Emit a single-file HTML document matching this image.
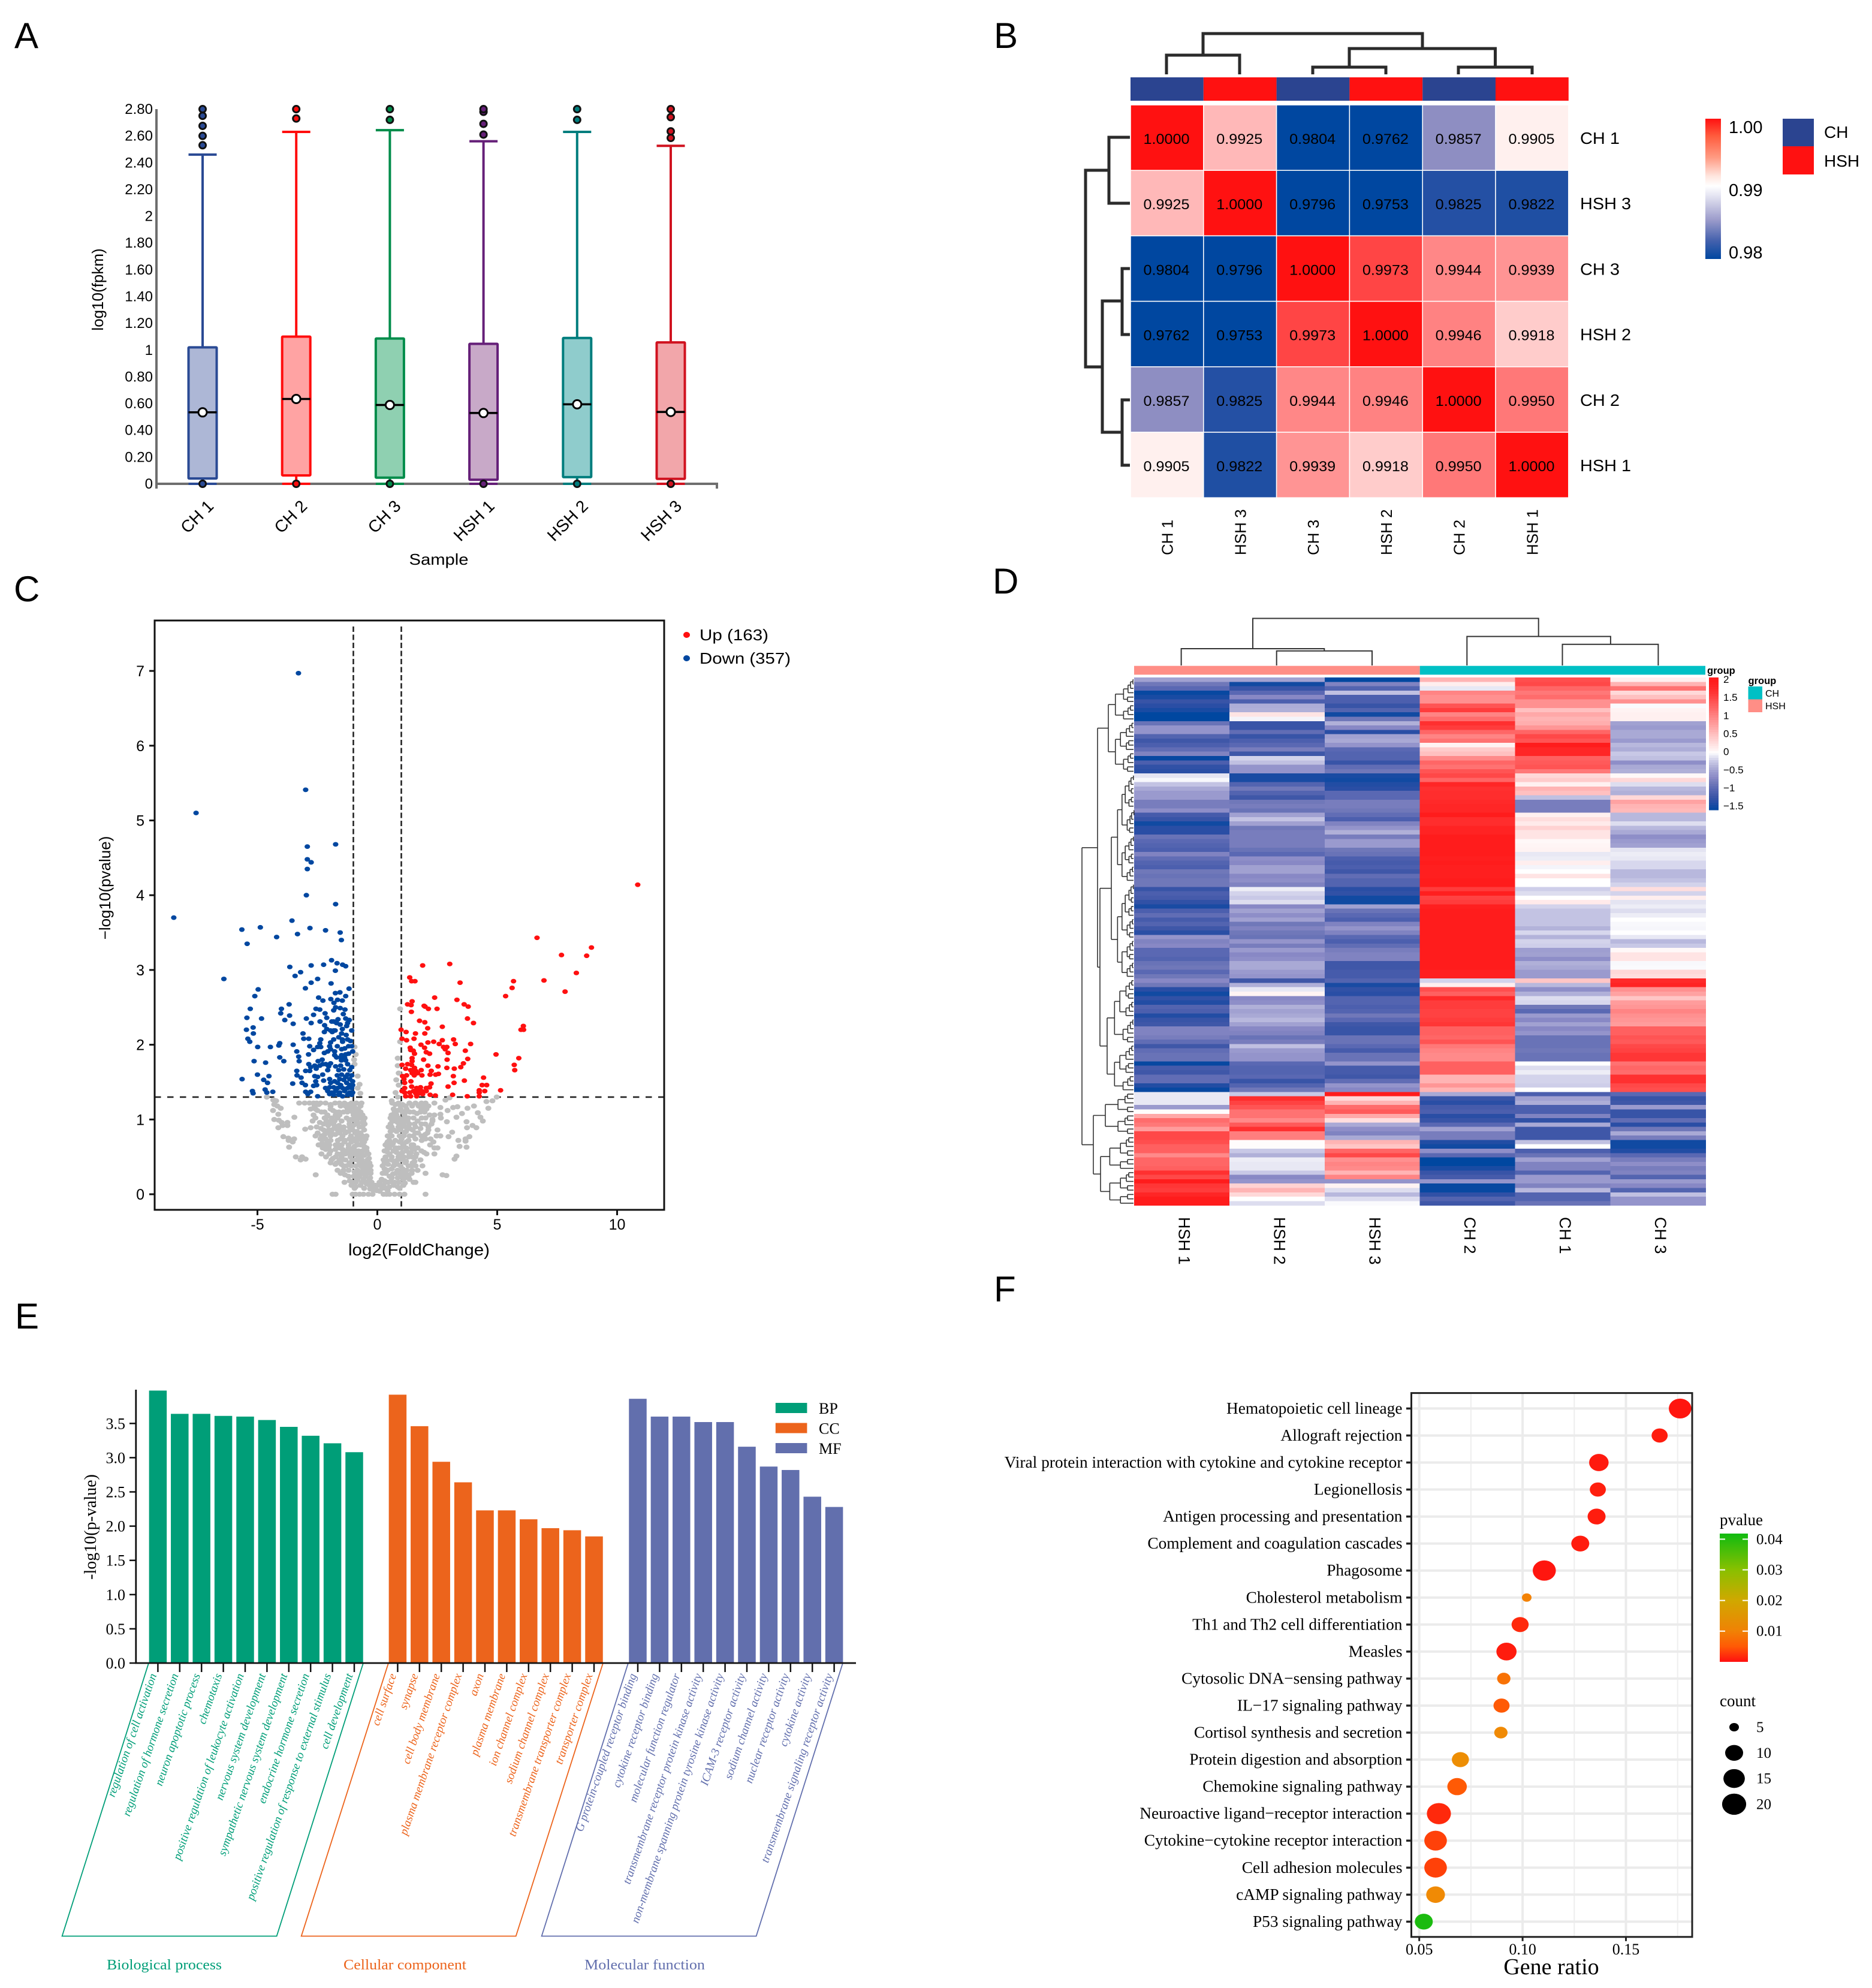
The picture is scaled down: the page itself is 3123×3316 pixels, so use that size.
<!DOCTYPE html>
<html lang="en">
<head>
<meta charset="utf-8">
<title>Multi-panel transcriptome figure</title>
<style>
html,body{margin:0;padding:0;background:#fff}
svg{display:block}
.sans{font-family:"Liberation Sans",sans-serif}
.serif{font-family:"Liberation Serif",serif}
</style>
</head>
<body>
<svg id="fig" xmlns="http://www.w3.org/2000/svg" width="3123" height="3316" viewBox="0 0 3123 3316">
<rect width="3123" height="3316" fill="#fff"/>
<defs>
<linearGradient id="gradB" x1="0" y1="0" x2="0" y2="1">
<stop offset="0" stop-color="#ff1111"/><stop offset="0.12" stop-color="#ff5a3c"/><stop offset="0.28" stop-color="#ff9c84"/><stop offset="0.41" stop-color="#ffe6df"/><stop offset="0.48" stop-color="#ffffff"/><stop offset="0.55" stop-color="#e4e4f2"/><stop offset="0.72" stop-color="#9c9ccb"/><stop offset="0.87" stop-color="#4461ad"/><stop offset="1" stop-color="#0047a0"/>
</linearGradient>
<linearGradient id="gradF" x1="0" y1="0" x2="0" y2="1">
<stop offset="0" stop-color="#10bb10"/><stop offset="0.28" stop-color="#88c000"/><stop offset="0.52" stop-color="#d0a800"/><stop offset="0.76" stop-color="#f08205"/><stop offset="0.88" stop-color="#ff5a05"/><stop offset="1" stop-color="#ff1010"/>
</linearGradient>
</defs>

<g class="sans" fill="#000" font-size="60">
<text x="24" y="80">A</text>
<text x="1658" y="80">B</text>
<text x="23" y="1003">C</text>
<text x="1656" y="990">D</text>
<text x="25" y="2216">E</text>
<text x="1658" y="2171">F</text>
</g>

<g id="panelA" class="sans">
<text transform="translate(172,483) rotate(-90)" font-size="26" text-anchor="middle">log10(fpkm)</text>
<text x="732" y="942" font-size="26" text-anchor="middle" textLength="99" lengthAdjust="spacingAndGlyphs">Sample</text>
</g>

<g id="panelB" class="sans">
<path fill="none" stroke="#2b2b2b" stroke-width="5" d="M1946 124V92H2068V124M2007 92V56H2373V81M2251 112V81H2494.5V112M2190 124V112H2312V124M2433 124V112H2556V124"/>
<path fill="none" stroke="#2b2b2b" stroke-width="5" d="M1885 229H1850V339H1885M1850 284H1811V612H1839M1872 502H1839V721H1872M1885 448H1872V558H1885M1885 667H1872V776H1885"/>
<rect x="2845" y="198" width="26" height="234" fill="url(#gradB)"/>
<text x="2884" y="222" font-size="29">1.00</text>
<text x="2884" y="327" font-size="29">0.99</text>
<text x="2884" y="431" font-size="29">0.98</text>
<rect x="2974" y="198" width="52" height="46" fill="#2b4490"/>
<rect x="2974" y="244" width="52" height="47" fill="#ff1111"/>
<text x="3043" y="230" font-size="28">CH</text>
<text x="3043" y="278" font-size="28">HSH</text>
</g>

<g id="panelC" class="sans">
<text transform="translate(184,1481) rotate(-90)" font-size="26" text-anchor="middle">−log10(pvalue)</text>
<text x="699" y="2094" font-size="28" text-anchor="middle" textLength="236" lengthAdjust="spacingAndGlyphs">log2(FoldChange)</text>
</g>

<g id="panelD" class="sans">
<path fill="none" stroke="#333" stroke-width="2" d="M2090 1082V1031.5H2566.7V1061.6M1970.6 1110V1082H2209.3V1085.8M2129.7 1110V1085.8H2289V1110M2447.3 1110V1061.6H2686.9V1074.8M2606.5 1110V1074.8H2766.4V1110"/>
<rect x="1892" y="1110.7" width="476.7" height="14.7" fill="#ff8e86"/>
<rect x="2368.7" y="1110.7" width="476.3" height="14.7" fill="#00c0c5"/>
<text x="2848" y="1124" font-size="16.5" font-weight="bold">group</text>
<text x="2916.5" y="1141" font-size="16.5" font-weight="bold">group</text>
<rect x="2916.5" y="1145" width="23.5" height="21.5" fill="#00c0c5"/>
<rect x="2916.5" y="1166.5" width="23.5" height="21.5" fill="#ff8e86"/>
<text x="2945" y="1162" font-size="16">CH</text>
<text x="2945" y="1183" font-size="16">HSH</text>
</g>

<g id="panelE" class="serif">
<text transform="translate(160,2547) rotate(-90)" font-size="28" text-anchor="middle">-log10(p-value)</text>
</g>

<g id="panelF" class="serif">
<text x="2588" y="3293" font-size="38" text-anchor="middle">Gene ratio</text>
<rect x="2869" y="2558" width="47" height="214" fill="url(#gradF)"/>
<text x="2869" y="2544" font-size="27">pvalue</text>
<text x="2869" y="2846" font-size="27">count</text>
</g>
</svg>

<script>
/* ---------- shared helpers ---------- */
const NS = 'http://www.w3.org/2000/svg';
function mk(parent, tag, attrs, txt) {
  const el = document.createElementNS(NS, tag);
  for (const k in attrs) el.setAttribute(k, attrs[k]);
  if (txt !== undefined) el.textContent = txt;
  parent.appendChild(el);
  return el;
}
function hex2(c){c=c.replace('#','');if(c.length===3)c=c[0]+c[0]+c[1]+c[1]+c[2]+c[2];return [0,2,4].map(i=>parseInt(c.substr(i,2),16));}
function ramp(stops, v){
  if(v<=stops[0][0])return stops[0][1];
  for(let i=1;i<stops.length;i++){
    if(v<=stops[i][0]){
      const t=(v-stops[i-1][0])/(stops[i][0]-stops[i-1][0]);
      const a=hex2(stops[i-1][1]),b=hex2(stops[i][1]);
      return 'rgb('+a.map((x,j)=>Math.round(x+(b[j]-x)*t)).join(',')+')';
    }
  }
  return stops[stops.length-1][1];
}
</script>

<script>
/* ---------- Panel A: box plot ---------- */
const boxSamples = ["CH 1","CH 2","CH 3","HSH 1","HSH 2","HSH 3"];
const boxQ1 = [0.04,0.063,0.046,0.03,0.05,0.037];
const boxMedian = [0.534,0.634,0.589,0.529,0.594,0.537];
const boxQ3 = [1.02,1.10,1.086,1.046,1.09,1.057];
const boxWhiskerHigh = [2.46,2.63,2.643,2.56,2.63,2.526];
const boxWhiskerLow = [0,0,0,0,0,0];
const boxOutliers = [
  [0,2.53,2.60,2.675,2.75,2.80],
  [0,2.73,2.80],
  [0,2.72,2.80],
  [0,2.61,2.69,2.78,2.80],
  [0,2.72,2.80],
  [0,2.585,2.634,2.74,2.80]
];
const boxTicks = [0,0.2,0.4,0.6,0.8,1,1.2,1.4,1.6,1.8,2,2.2,2.4,2.6,2.8];
const boxTickLabels = ["0","0.20","0.40","0.60","0.80","1","1.20","1.40","1.60","1.80","2","2.20","2.40","2.60","2.80"];
const boxColors = ["#2a4a94","#ff0d0d","#008c4a","#651f78","#007d7d","#d0121f"];
const boxFills = ["#adb7d6","#ffa3a3","#8fd0b1","#c8a9c8","#8fcccc","#f2a6aa"];
(function(){
  const g = document.getElementById('panelA');
  const yA = v => 807 - v * 223.2;
  const xA = i => 338 + i * 156.2;
  const axis = mk(g,'path',{d:'M261 182V815M261 807H1196V815',fill:'none',stroke:'#6e6e6e','stroke-width':4});
  
  
  boxTicks.forEach((t,i)=>{
    const lb = mk(g,'text',{x:255,y:yA(t)+8,'font-size':24,'text-anchor':'end'},boxTickLabels[i]);
    
    
  });
  boxSamples.forEach((s,i)=>{
    const c = xA(i), col = boxColors[i], hw = 23.5;
    const w = mk(g,'path',{d:'M'+c+' '+yA(boxQ3[i])+'V'+yA(boxWhiskerHigh[i])+'M'+(c-hw)+' '+yA(boxWhiskerHigh[i])+'H'+(c+hw)+'M'+c+' '+yA(boxQ1[i])+'V'+yA(boxWhiskerLow[i])+'M'+(c-hw)+' '+yA(boxWhiskerLow[i])+'H'+(c+hw),fill:'none',stroke:col,'stroke-width':4});
    
    
    const b = mk(g,'rect',{x:c-hw,y:yA(boxQ3[i]),width:2*hw,height:yA(boxQ1[i])-yA(boxQ3[i]),fill:boxFills[i],stroke:col,'stroke-width':4,rx:1});
    
    
    const m = mk(g,'line',{x1:c-hw,x2:c+hw,y1:yA(boxMedian[i]),y2:yA(boxMedian[i]),stroke:'#000','stroke-width':3.5});
    
    
    const md = mk(g,'circle',{cx:c,cy:yA(boxMedian[i]),r:7,fill:'#fff',stroke:'#000','stroke-width':3});
    
    
    boxOutliers[i].forEach(o=>{
      const d = mk(g,'circle',{cx:c,cy:yA(o),r:5.5,fill:col,stroke:'#111','stroke-width':3});
      
      
    });
    const t = mk(g,'text',{transform:'translate('+(c+20)+',846) rotate(-45)','font-size':28,'text-anchor':'end'},s);
    
    
  });
})();
</script>

<script>
/* ---------- Panel B: correlation heatmap ---------- */
const corrOrder = ["CH 1","HSH 3","CH 3","HSH 2","CH 2","HSH 1"];
const corrGroupIsHsh = [0,1,0,1,0,1];
const corrMatrix = [
  [1.0000,0.9925,0.9804,0.9762,0.9857,0.9905],
  [0.9925,1.0000,0.9796,0.9753,0.9825,0.9822],
  [0.9804,0.9796,1.0000,0.9973,0.9944,0.9939],
  [0.9762,0.9753,0.9973,1.0000,0.9946,0.9918],
  [0.9857,0.9825,0.9944,0.9946,1.0000,0.9950],
  [0.9905,0.9822,0.9939,0.9918,0.9950,1.0000]
];
const corrStops = [[0.9804,'#0047a0'],[0.9825,'#2450a4'],[0.9857,'#8e8ec2'],[0.9895,'#f0f0f8'],[0.99,'#ffffff'],[0.9905,'#fff0ee'],[0.9925,'#ffb8b8'],[0.995,'#ff7878'],[0.9973,'#ff4545'],[1,'#ff1111']];
(function(){
  const g = document.getElementById('panelB');
  const cx = j => 1886 + j * 121.8;
  const cy = i => 175 + i * 109.2;
  corrOrder.forEach((n,j)=>{
    const a = mk(g,'rect',{x:cx(j),y:129,width:121.8,height:39,fill:corrGroupIsHsh[j]?'#ff1111':'#2b4490'});
    
    
    const t = mk(g,'text',{transform:'translate('+(cx(j)+70.5)+',926) rotate(-90)','font-size':26},n);
    
    
    const r = mk(g,'text',{x:2636,y:cy(j)+65,'font-size':28,textLength:n.length>4?85:66,lengthAdjust:'spacingAndGlyphs'},n);
    
    
  });
  corrMatrix.forEach((row,i)=>row.forEach((v,j)=>{
    const c = mk(g,'rect',{x:cx(j),y:cy(i),width:121.8,height:109.2,fill:ramp(corrStops,v),stroke:'#fff','stroke-width':1.5});
    
    
    const t = mk(g,'text',{x:cx(j)+60,y:cy(i)+65,'font-size':24,'text-anchor':'middle',textLength:77,lengthAdjust:'spacingAndGlyphs'},v.toFixed(4));
    
    
  }));
})();
</script>

<script>
/* ---------- Panel C: volcano ---------- */
const downPoints = [
[-3.29,6.97],[-2.99,5.41],[-7.56,5.10],[-2.92,4.65],[-1.74,4.68],[-2.92,4.48],[-2.76,4.44],[-2.92,4.35],[-2.96,4.0],[-8.49,3.7],[-6.4,2.88],
[-1.74,3.88],[-3.56,3.66],[-5.65,3.54],[-4.88,3.57],[-2.81,3.56],[-2.16,3.53],[-1.55,3.50],[-3.33,3.48],[-4.2,3.44],[-1.5,3.40],[-5.43,3.35],
[-1.91,3.13],[-1.68,3.09],[-1.45,3.07],[-1.32,3.05],[-2.76,3.06],[-2.24,3.07],[-3.65,3.04],[-1.75,2.99],[-3.2,2.97],[-3.43,2.92],[-2.49,2.88],[-2.76,2.83],[-1.93,2.82],[-3.0,2.755],[-1.18,2.75],[-4.97,2.74],[-5.11,2.65],[-1.75,2.69],[-1.56,2.70],[-1.32,2.65],[-2.45,2.63],[-1.94,2.61],[-2.27,2.59],[-1.66,2.6],[-1.46,2.59],[-1.81,2.56],[-3.68,2.54],[-1.74,2.5],[-5.3,2.48],[-4.0,2.48],[-2.56,2.48],[-2.4,2.47],[-1.82,2.46],[-1.55,2.49],[-1.35,2.47],[-4.03,2.42],[-2.18,2.42],[-1.42,2.41],[-2.66,2.40],[-3.66,2.39],[-2.11,2.36],[-5.44,2.36],[-4.83,2.35],[-2.96,2.35],[-3.86,2.33],[-1.32,2.35],[-1.17,2.33],[-1.64,2.34],[-1.82,2.31],[-1.9,2.31],[-2.39,2.31],[-2.76,2.29],[-3.51,2.28],[-1.7,2.29],[-1.55,2.27],[-1.24,2.29],[-1.28,2.25],[-2.2,2.26],[-5.18,2.23],[-5.46,2.2],[-1.46,2.21],[-1.07,2.19],[-2.11,2.21],[-2.21,2.17],[-1.95,2.19],[-1.82,2.19],[-1.76,2.19],[-1.49,2.15],[-5.17,2.15],[-3.1,2.15],[-1.88,2.17],[-1.3,2.13],[-3.07,2.08],[-2.86,2.08],[-5.4,2.08],[-5.32,2.04],[-2.36,2.07],[-1.82,2.07],[-1.61,2.1],[-1.46,2.07],[-1.24,2.07],[-1.12,2.05],[-1.45,2.04],[-1.95,2.03],[-2.4,2.02],[-4.07,2.02],[-4.11,1.99],[-3.51,2.0],[-4.46,1.97],[-4.99,1.97],[-2.82,1.98],[-2.49,1.97],[-2.36,1.97],[-1.99,1.98],[-1.67,1.98],[-1.2,1.98],[-1.07,1.98],[-1.36,1.95],[-1.95,1.94],[-1.49,1.94],[-2.66,1.93],[-3.36,1.91],[-1.78,1.91],[-2.07,1.91],[-2.21,1.89],[-1.03,1.91],[-1.2,1.88],[-1.49,1.86],[-1.32,1.87],[-2.87,1.87],[-1.78,1.86],[-3.28,1.84],[-4.07,1.83],[-1.7,1.83],[-1.53,1.83],[-1.36,1.82],[-5.14,1.78],[-4.66,1.76],[-3.9,1.78],[-3.26,1.78],[-2.3,1.8],[-2.47,1.78],[-1.5,1.79],[-1.32,1.79],[-2.86,1.74],[-1.95,1.75],[-2.15,1.74],[-2.28,1.74],[-1.24,1.74],[-2.61,1.72],[-2.4,1.72],[-2.78,1.7],[-2.03,1.71],[-1.74,1.71],[-1.53,1.72],[-1.07,1.7],[-2.55,1.68],[-2.07,1.66],[-2.99,1.65],[-2.82,1.65],[-3.36,1.65],[-1.61,1.66],[-1.4,1.67],[-1.15,1.66],[-3.35,1.59],[-5.0,1.6],[-4.52,1.58],[-2.61,1.58],[-2.28,1.6],[-1.67,1.59],[-1.49,1.6],[-1.24,1.6],[-1.07,1.59],[-3.18,1.56],[-2.49,1.57],[-1.32,1.57],[-5.64,1.54],[-4.74,1.53],[-1.99,1.54],[-1.57,1.54],[-1.15,1.54],[-2.24,1.52],[-2.57,1.51],[-1.78,1.51],[-1.4,1.53],[-1.03,1.51],[-4.58,1.49],[-3.14,1.49],[-3.53,1.48],[-1.95,1.49],[-1.66,1.49],[-1.28,1.49],[-3.0,1.46],[-2.66,1.45],[-2.53,1.46],[-1.53,1.46],[-1.15,1.46],[-1.03,1.46],[-2.16,1.42],[-1.99,1.43],[-1.82,1.43],[-1.66,1.42],[-1.45,1.42],[-1.24,1.42],[-1.07,1.42],[-4.68,1.4],[-5.21,1.38],[-4.36,1.37],[-2.99,1.37],[-2.78,1.37],[-4.61,1.36],[-5.18,1.35],[-2.9,1.34],[-2.07,1.38],[-1.9,1.36],[-1.74,1.38],[-1.57,1.36],[-1.36,1.38],[-1.15,1.36],[-1.03,1.36],[-1.99,1.34],[-1.82,1.33],[-1.61,1.33],[-1.45,1.31],[-1.24,1.33],[-1.07,1.33],[-2.49,1.31]
];
const upPoints = [
[10.86,4.14],[6.66,3.43],[8.93,3.3],[7.68,3.2],[8.73,3.19],[8.3,2.96],[5.68,2.85],[6.95,2.86],[5.62,2.76],[7.83,2.71],[5.35,2.65],
[1.89,3.06],[3.02,3.08],[1.35,2.9],[1.43,2.85],[1.57,2.85],[3.45,2.83],[2.39,2.63],[3.32,2.6],[1.45,2.58],[1.26,2.54],[1.41,2.53],[1.95,2.52],[1.99,2.51],[3.62,2.54],[3.79,2.51],[2.13,2.48],[2.49,2.48],[1.42,2.44],[3.76,2.35],[4.01,2.29],[1.76,2.32],[1.98,2.3],[6.09,2.25],[2.71,2.24],[2.1,2.22],[5.99,2.2],[6.1,2.2],[0.99,2.2],[1.2,2.17],[1.59,2.15],[1.98,2.15],[1.53,2.08],[1.03,2.08],[1.22,2.06],[2.71,2.06],[3.18,2.07],[2.35,2.04],[2.11,2.03],[1.82,2.0],[2.58,2.01],[3.25,2.01],[3.89,2.01],[1.37,1.96],[1.97,1.96],[2.76,1.97],[2.9,1.97],[2.83,1.94],[1.39,1.93],[1.5,1.92],[3.67,1.92],[2.04,1.9],[1.55,1.88],[2.18,1.88],[2.95,1.89],[4.95,1.87],[1.45,1.82],[2.91,1.8],[1.93,1.8],[3.77,1.81],[5.9,1.82],[1.45,1.78],[3.59,1.75],[1.03,1.73],[1.26,1.74],[1.43,1.73],[2.11,1.72],[2.53,1.71],[5.71,1.73],[3.48,1.7],[2.9,1.69],[1.55,1.69],[1.18,1.68],[3.21,1.68],[1.39,1.66],[1.83,1.66],[5.73,1.66],[1.6,1.65],[2.25,1.65],[1.45,1.62],[1.68,1.62],[2.2,1.6],[2.43,1.6],[2.55,1.61],[1.54,1.59],[1.86,1.59],[1.22,1.59],[1.05,1.58],[3.17,1.58],[4.43,1.56],[1.11,1.54],[1.4,1.51],[3.2,1.49],[3.63,1.52],[1.14,1.49],[2.24,1.48],[4.37,1.46],[4.56,1.46],[2.95,1.44],[1.43,1.44],[2.18,1.43],[1.14,1.42],[1.64,1.42],[1.8,1.43],[2.04,1.42],[5.14,1.39],[4.25,1.39],[4.48,1.38],[1.03,1.38],[1.51,1.38],[1.68,1.38],[1.85,1.38],[2.04,1.38],[1.14,1.36],[1.35,1.36],[4.25,1.36],[1.6,1.35],[1.76,1.35],[1.89,1.34],[2.2,1.33],[2.42,1.32],[3.14,1.33],[1.18,1.31],[1.39,1.31],[1.64,1.31],[3.75,1.31],[4.25,1.31]
];
const nsScattered = [
[-0.95,1.97],[-0.9,1.87],[-0.97,1.8],[-0.95,1.74],[-0.82,1.58],[-0.74,1.47],[-0.82,1.42],[-0.71,1.35],[-4.61,1.30],[-4.32,1.26],
[0.95,2.48],[0.95,2.04],[0.85,1.82],[0.85,1.72],[0.89,1.62],[0.79,1.53],[0.89,1.46],[0.76,1.36],[0.85,1.3],[0.6,1.25],
[-4.34,1.26],[-4.22,1.25],[-4.3,1.2],[-4.17,1.18],[-4.03,1.15],[-4.35,1.12],[-4.13,1.07],[-3.46,1.03],[-4.3,1.0],[-4.11,0.99],[-3.99,0.96],[-3.75,0.96],[-3.95,0.92],[-3.75,0.92],[-4.13,0.89],[-3.01,0.87],[-2.78,0.89],[-3.92,0.77],[-3.71,0.75],[-3.47,0.74],[-3.7,0.72],[-3.53,0.70],[-3.68,0.63],[-3.4,0.5],[-3.14,0.5],[-3.2,0.46],[-2.99,0.47],[-2.57,0.26],
[4.98,1.30],[4.8,1.25],[4.55,1.24],[4.63,1.15],[4.19,1.09],[4.03,1.18],[3.76,1.15],[4.3,1.03],[4.4,0.98],[3.72,0.97],[3.74,0.89],[3.97,0.92],[4.13,0.89],[3.84,0.77],[3.68,0.74],[3.38,0.72],[3.68,0.71],[3.43,0.64],[3.72,0.63],[3.3,0.51],[3.22,0.47],[2.72,0.26],[2.88,0.25],[3.34,1.17],[3.16,1.16],[3.53,1.08],[3.3,1.03],[2.63,1.16],[2.93,1.12],[2.63,1.07],[2.65,1.02],[2.9,0.97],[3.12,0.83],[2.97,0.77],[2.84,1.26],[3.01,1.29],[2.3,1.0],[2.26,0.94],
[-2.45,1.2],[-1.95,1.2],[-1.5,1.2],[-1.2,1.2],[-0.95,1.16],[-0.8,1.14],[-2.5,1.12],[-1.85,1.12],[-1.6,1.1],[-1.25,1.1],[-0.95,1.08],[-0.72,1.06],[-2.1,1.04],[-1.9,1.02],[-1.1,1.0],[-0.85,0.98],[-0.62,0.96],[-2.4,0.96],[-2.05,0.92],[-1.6,0.92],[-1.4,0.9],[-1.0,0.92],[-0.75,0.9],[-2.35,0.88],[-1.9,0.86],[-1.5,0.86],[-1.2,0.84],[-0.85,0.84],[-0.55,0.86],[-2.2,0.8],[-1.75,0.8],[-1.45,0.78],[-1.1,0.78],[-0.7,0.76],[-2.25,0.74],[-1.95,0.72],[-1.65,0.72],[-1.35,0.72],[-1.0,0.72],[-0.55,0.7],[-2.3,0.68],[-2.0,0.66],[-1.6,0.66],[-1.2,0.66],[-0.95,0.64],[-0.55,0.64],[-2.15,0.6],[-1.75,0.6],[-1.45,0.6],[-1.2,0.58],[-0.9,0.58],[-0.45,0.58],[-2.0,0.54],[-1.5,0.54],[-1.15,0.54],[-0.85,0.52],[-0.55,0.52],[-1.85,0.48],[-1.45,0.46],[-1.05,0.46],[-0.65,0.46],[-0.35,0.48],[-1.75,0.4],[-1.5,0.4],[-1.3,0.38],[-0.9,0.38],[-0.62,0.36],[-0.4,0.34],[-1.2,0.32],[-0.95,0.3],[-0.7,0.3],[-0.42,0.28],[-1.35,0.26],[-0.75,0.24],[-0.5,0.24],[-0.3,0.22],[-1.15,0.18],[-0.9,0.16],[-0.65,0.16],[-0.45,0.14],[-0.2,0.12],[-0.9,0.1],[-0.55,0.08],[-0.3,0.07],
[0.75,1.2],[1.05,1.2],[1.45,1.18],[1.95,1.18],[0.85,1.12],[1.05,1.1],[1.35,1.1],[1.65,1.08],[0.65,1.04],[0.9,1.02],[1.3,1.02],[1.85,1.02],[0.62,0.98],[0.85,0.96],[1.1,0.94],[1.55,0.94],[2.0,0.94],[0.6,0.9],[1.0,0.9],[1.35,0.88],[1.8,0.88],[0.55,0.84],[0.8,0.84],[1.2,0.84],[1.7,0.82],[0.6,0.78],[1.1,0.78],[1.5,0.78],[2.0,0.8],[0.5,0.72],[0.75,0.72],[1.3,0.72],[1.85,0.72],[0.4,0.68],[0.65,0.68],[1.05,0.68],[1.5,0.66],[2.2,0.66],[0.5,0.62],[0.9,0.62],[1.2,0.62],[1.55,0.6],[0.4,0.57],[0.8,0.56],[1.05,0.56],[1.4,0.56],[1.95,0.56],[0.35,0.5],[0.6,0.5],[1.1,0.5],[1.45,0.5],[0.4,0.45],[0.8,0.45],[1.2,0.44],[1.55,0.44],[0.45,0.4],[0.85,0.4],[1.3,0.38],[1.6,0.38],[0.3,0.34],[0.6,0.34],[1.05,0.34],[1.45,0.32],[0.35,0.28],[0.65,0.27],[0.95,0.28],[1.25,0.26],[0.6,0.22],[0.85,0.22],[1.15,0.22],[0.3,0.18],[0.55,0.17],[0.9,0.16],[1.15,0.15],[0.1,0.12],[0.5,0.1],[0.85,0.1],[0.2,0.08],[0.1,0.04]
];
const nsRows = [
[1.22,[-3.26,-3.03,-2.83,-2.66,-2.53,-2.37,-2.16,-1.76,-1.58,-1.37,-1.08,-0.87,-0.66,0.62,0.88,1.34,1.59,1.84,2.01,2.38]],
[1.18,[-2.62,-1.95,-1.53,-1.33,-1.16,-0.99,-0.7,0.97,1.18,1.72,2.13]],
[1.14,[-2.78,-2.58,-1.95,-1.24,-1.16,0.68,0.97,1.22,1.84,2.05]],
[1.10,[-2.33,-2.2,-1.74,-1.41,-1.03,-0.87,-0.7,0.72,1.18,1.51,1.8,1.97]],
[1.06,[-2.66,-2.08,-1.74,-1.58,-0.99,-0.83,-0.62,0.59,0.8,1.13,2.18,2.38]],
[1.02,[-2.58,-2.2,-1.66,-1.28,-0.95,-0.74,-0.53,0.55,0.76,1.13,1.51,2.01]],
[0.98,[-2.7,-2.12,-1.95,-1.78,-1.49,-1.16,-0.91,-0.58,0.72,1.05,1.26,1.68,2.3]],
[0.94,[-2.24,-2.03,-1.83,-1.16,-0.83,-0.53,0.55,0.93,1.34,1.84]],
[0.90,[-2.53,-1.78,-1.62,-1.16,-0.62,0.47,0.88,1.18,1.59,2.13]],
[0.86,[-2.24,-2.03,-1.66,-1.41,-1.03,0.68,0.97,1.47,2.13,2.51]],
[0.82,[-2.49,-2.12,-1.91,-1.58,-1.33,-0.91,-0.7,1.13,1.59,2.09]],
[0.78,[-2.58,-2.33,-1.95,-0.83,-0.62,-0.45,0.43,0.55,0.93,1.34,1.84,2.47,2.63]],
[0.74,[-2.37,-2.16,-1.53,-1.16,-0.99,-0.78,-0.49,1.01,1.59,2.01,2.22]],
[0.70,[-2.08,-1.37,-1.08,-0.87,-0.62,0.43,0.93,1.22,2.34]],
[0.66,[-2.45,-2.16,-1.74,-1.49,-0.83,-0.7,0.34,0.59,1.09,1.43]],
[0.62,[-2.28,-2.03,-1.58,-1.2,-0.99,-0.45,0.43,0.76,1.01,1.43,1.68,2.38,2.51]],
[0.58,[-1.95,-1.37,-1.08,-0.78,-0.62,0.3,0.68,1.22,1.84]],
[0.54,[-2.33,-1.66,-1.33,-0.95,-0.74,-0.37,0.51,0.93,1.34,1.63,2.05,2.38]],
[0.50,[-2.14,-1.74,-1.49,-1.12,-0.7,0.34,0.88,1.3,1.59]],
[0.46,[-1.91,-1.58,-1.33,-0.87,-0.41,0.26,0.59,1.01,1.8]],
[0.42,[-1.95,-1.7,-1.16,-0.74,-0.53,-0.33,0.3,0.72,1.18,1.47]],
[0.38,[-1.41,-1.08,-0.7,-0.49,-0.28,0.22,0.68,0.97,1.43,1.88]],
[0.32,[-1.66,-1.41,-0.83,-0.53,-0.28,0.43,0.84,1.22,1.68]],
[0.28,[-1.53,-0.74,-0.62,-0.28,0.22,0.76,1.09,1.43,2.01]],
[0.24,[-1.2,-0.99,-0.87,0.51,0.97,1.3]],
[0.20,[-0.83,-0.58,-0.33,0.18,1.09,1.34]],
[0.16,[-1.37,-1.03,-0.45,-0.24,0.09,0.43,0.72,1.51,1.59]],
[0.12,[-1.08,-0.7,-0.33,-0.08,0.26,0.68,1.09]],
[0.08,[-0.95,-0.08,0.34,0.93]],
[0.05,[-0.16,-0.03,0.01,0.43]],
[0,[-1.87,-1.74,-1.03,-0.91,-0.74,-0.58,-0.37,-0.2,0.26,0.38,0.51,0.72,0.93,1.13,2.01]]
];
const volXTicks = [-5,0,5,10];
const volYTicks = [0,1,2,3,4,5,6,7];
const volLegend = ["Up (163)","Down (357)"];
(function(){
  const g = document.getElementById('panelC');
  const xC = v => 629.5 + v * 40;
  const yC = v => 1992 - v * 124.7;
  function dashed(x1,y1,x2,y2,da){ return mk(g,'line',{x1,y1,x2,y2,stroke:'#222','stroke-width':2.6,'stroke-dasharray':da}); }
  const v1 = dashed(xC(-1),1045,xC(-1),2018,'9 4.5');
  
  
  const v2 = dashed(xC(1),1045,xC(1),2018,'9 4.5');
  
  
  const h = dashed(258,yC(1.3),1108,yC(1.3),'10.5 10.5');
  
  
  nsRows.forEach(r=>r[1].forEach(x=>{
    const d = mk(g,'ellipse',{cx:xC(x),cy:yC(r[0]),rx:5,ry:4.3,fill:'#bebebe'});
    
    
  }));
  nsScattered.forEach(p=>{
    const d = mk(g,'ellipse',{cx:xC(p[0]),cy:yC(p[1]),rx:5,ry:4.3,fill:'#bebebe'});
    
    
  });
  downPoints.forEach(p=>{
    const d = mk(g,'ellipse',{cx:xC(p[0]),cy:yC(p[1]),rx:4.6,ry:3.9,fill:'#0047a0'});
    
    
  });
  upPoints.forEach(p=>{
    const d = mk(g,'ellipse',{cx:xC(p[0]),cy:yC(p[1]),rx:4.6,ry:3.9,fill:'#ff1010'});
    
    
  });
  const fr = mk(g,'rect',{x:258,y:1035,width:850,height:983,fill:'none',stroke:'#111','stroke-width':3});
  
  
  volXTicks.forEach(t=>{
    const k = mk(g,'line',{x1:xC(t),x2:xC(t),y1:2018,y2:2027,stroke:'#111','stroke-width':3});
    
    
    const l = mk(g,'text',{x:xC(t),y:2051,'font-size':25,'text-anchor':'middle'},t<0?'-'+Math.abs(t):String(t));
    
    
  });
  volYTicks.forEach(t=>{
    const k = mk(g,'line',{x1:249,x2:258,y1:yC(t),y2:yC(t),stroke:'#111','stroke-width':3});
    
    
    const l = mk(g,'text',{x:241,y:yC(t)+9,'font-size':25,'text-anchor':'end'},String(t));
    
    
  });
  volLegend.forEach((s,i)=>{
    const cy = 1059 + i * 39;
    const d = mk(g,'ellipse',{cx:1145.5,cy:cy,rx:5.5,ry:5,fill:i?'#0047a0':'#ff1010'});
    
    
    const t = mk(g,'text',{x:1167,y:cy+9,'font-size':26,textLength:i?152:115,lengthAdjust:'spacingAndGlyphs'},s);
    
    
  });
})();
</script>

<script>
/* ---------- Panel D: expression heatmap ---------- */
const heatColumns = ["HSH 1","HSH 2","HSH 3","CH 2","CH 1","CH 3"];
const heatValues = [
[-.5,-.5,-1.6,.6,1.45,.1],[-.85,-1.5,-.75,.12,1.5,.6],[-1,-1.25,-1.05,-.1,1.25,1.15],[-1.55,-1,-.3,1,1.1,.3],[-1.45,-.7,-1.1,.9,1.2,.5],[-1.25,-1.1,-1.1,.9,.9,.9],[-1.35,-.42,-1.25,1.4,.9,-.02],[-1.45,-.4,-1.05,1.6,.5,.08],[-1.6,.2,-1.5,1,.7,.1],[-1.6,-.05,-.85,1.2,.6,.1],
[-.9,-1.25,-.4,1.7,.65,-.5],[-.6,-1.25,-.7,1.6,.85,-.55],[-.6,-.95,-1.35,1.25,1.25,-.45],[-1.05,-1.25,-.5,1,1.5,-.45],[-1.2,-1.1,-.45,1.15,1.4,-.55],[-1.1,-1,-.6,.08,2,-.35],[-.95,-.8,-1,.4,1.85,-.42],[-.75,-1.2,-1.05,.5,1.85,-.25],[-1.55,-.2,-1.05,.95,1.3,-.3],[-1.1,-.3,-1.25,1.25,1.35,-.65],
[-1.3,-.6,-.95,1.15,1.4,-.45],[-1.35,-.6,-.85,1.4,1.1,-.4],[-.12,-1.45,-1.45,1.5,.3,.05],[-.03,-1.45,-1.5,1.25,.4,.3],[-.28,-1.05,-1.4,1.85,.1,-.15],[-.45,-.85,-1.35,1.7,.6,-.35],[-.55,-1.05,-1,1.75,.5,-.4],[-.55,-1.2,-1,1.75,-.3,.3],[-.8,-.85,-.8,1.8,-.8,.75],[-.8,-.8,-.8,1.85,-.8,.6],
[-.65,-.9,-.85,1.85,-.8,.55],[-1.15,-.5,-.95,2,.1,-.35],[-1.25,-.28,-1.1,1.75,.25,-.35],[-1.5,-.5,-.75,1.75,.15,-.15],[-1.35,-.85,-.6,1.9,.35,-.35],[-1.35,-.8,-.4,1.9,.2,-.45],[-.9,-.8,-.8,2,.2,-.65],[-1,-.8,-.55,2,.05,-.55],[-1.05,-.8,-.55,2,.07,-.5],[-1.1,-.9,-.85,2,.08,-.12],
[-.75,-1,-.9,2,-.1,-.08],[-.95,-.65,-1.1,1.95,-.08,-.1],[-1.05,-.7,-1.15,2,.12,-.18],[-1.1,-.5,-1.1,1.95,-.05,-.18],[-.85,-.5,-1.2,1.95,0,-.35],[-.9,-.7,-.95,1.95,.2,-.35],[-.85,-.65,-1.05,2,0,-.28],[-.85,-.75,-1.05,2,0,-.2],[-1.25,-.08,-1.35,1.6,-.22,.25],[-1.1,-.2,-1.3,1.95,-.15,-.2],
[-1.15,-.25,-1.5,1.55,0,.12],[-1.3,-.15,-1.5,1.6,.15,-.12],[-1.45,-.7,-.5,1.95,-.2,-.08],[-1.1,-.5,-.9,2,-.28,-.15],[-.95,-.65,-1,2,-.28,-.08],[-1.15,-.5,-1.1,2,-.28,0],[-1.05,-.85,-.75,2,-.28,-.03],[-1.2,-.75,-.6,2,-.38,-.04],[-1.35,-.85,-.75,2,-.18,0],[-.6,-.9,-1,2,-.38,-.1],
[-.75,-.6,-1.1,2,-.2,-.35],[-.7,-.8,-.95,2,-.22,-.25],[-1,-.55,-.8,2,-.52,.05],[-1,-.7,-.75,2,-.5,.2],[-1.05,-.65,-.75,2,-.65,.2],[-.9,-.45,-1.2,2,-.4,-.03],[-.85,-.45,-1.2,2,-.45,-.02],[-1,-.55,-1.15,1.95,-.55,.3],[-.85,-.6,-1.15,1.95,-.55,.25],[-.7,-1.2,-1.05,-.2,.45,1.8],
[-.85,-.4,-1.45,.12,-.35,1.9],[-1.35,-.1,-1.3,1.45,-.65,.9],[-1.5,.08,-1.35,1.3,-.4,.75],[-1.3,-.7,-1.05,1.8,-.15,.45],[-1.4,-.65,-1.05,1.6,-.18,.8],[-1.05,-.4,-1.1,1.6,-.85,.85],[-1.1,-.5,-1.05,1.55,-1,1],[-1.4,-.45,-.85,1.55,-.55,.9],[-1.25,-.35,-1,1.6,-.7,.85],[-1.2,-.5,-1.2,1.65,-.5,.8],
[-.75,-.7,-1.25,1.3,-.7,1.3],[-.75,-.75,-1.25,1.3,-.6,1.3],[-.8,-.9,-.9,1.25,-.9,1.4],[-.95,-.8,-.9,1.4,-.9,1.35],[-1.2,-.3,-1,1.1,-.9,1.5],[-.95,-.55,-1.15,1,-.85,1.55],[-.9,-.6,-.9,.95,-.9,1.65],[-.9,-.6,-.9,.95,-.9,1.65],[-1.55,-1,-.6,1.3,0,1.15],[-1.15,-1.05,-1.15,1.3,-.15,1.25],
[-1.2,-1.05,-1.15,1.3,-.08,1.2],[-.95,-1,-1.2,.6,-.2,1.7],[-.95,-1.25,-.95,.6,-.2,1.7],[-1.4,-1.05,-.6,.85,-.22,1.5],[-1.55,-.85,-.7,.6,0,1.45],[-.1,-.25,2,-.45,-1.1,-1],[-.1,1.75,.3,-1.25,-.5,-1.25],[-.1,1.55,.6,-1.35,-.42,-1.2],[-.55,1.4,1.2,-1.15,-1.1,-.55],[.02,1.15,1.35,-1.1,-1.1,-1.25],
[.7,1.15,.7,-1.35,-.75,-1.25],[1.2,.95,.25,-1.25,-1.3,-.95],[1.1,1.35,-.45,-1,-.45,-1.35],[.8,1.7,-.65,-.5,-1.2,-.85],[1.5,1.05,-.75,-.8,-1.2,-.45],[1.5,1.05,-.45,-.8,-1.2,-.8],[1.45,.02,.6,-1.4,-.3,-1.5],[1.3,.02,.45,-1.5,0,-1.5],[1.3,-.25,1.25,-.65,-1.1,-1.4],[.95,-.4,1.5,-1,-.9,-1],
[1.25,-.08,.9,-1.6,-.5,-.8],[1.25,-.1,1,-1.6,-.75,-.65],[1.3,-.1,.95,-1.45,-.75,-.8],[1.7,-.25,.6,-1.25,-1.05,-.75],[1.5,-.7,1,-1.15,-.55,-1.05],[2,-.6,-.6,-.6,-.55,-.55],[1.65,.35,.08,-1.55,-.75,-.7],[1.6,.6,-.15,-1.55,-.35,-1.05],[1.85,.3,-.35,-1.3,-1.05,-.3],[2,0,-.15,-1.05,-1.05,-.6],
[2,-.15,-.02,-1.2,-.9,-.6]
];
const heatStops = [[-1.6,'#0047a0'],[-1.35,'#2a4ea5'],[-1.2,'#3f57a8'],[-1,'#5a68b3'],[-.85,'#7078b9'],[-.7,'#8888c5'],[-.55,'#9a9ace'],[-.4,'#b0b0d8'],[-.25,'#c8c8e6'],[-.1,'#e8e8f4'],[0,'#ffffff'],[.1,'#fff0f0'],[.3,'#ffd8d8'],[.5,'#ffc0c0'],[.7,'#ffa8a8'],[.9,'#ff9090'],[1.1,'#ff7878'],[1.3,'#ff6060'],[1.5,'#ff4848'],[1.7,'#ff3030'],[2,'#ff1c1c']];
const heatBarTicks = [2,1.5,1,0.5,0,-0.5,-1,-1.5];
const heatBarLabels = ["2","1.5","1","0.5","0","−0.5","−1","−1.5"];
/* top-level splits of the row tree: "first-last": [branch x, last row of upper child] */
const rowTreeNodes = {'0-120':[1805,94],'0-94':[1831,21],'22-94':[1835,68],'95-120':[1824,104],'0-21':[1849,9],'22-68':[1854,46],'69-94':[1847,83],'95-104':[1844,99],'105-120':[1836,112]};
(function(){
  const g = document.getElementById('panelD');
  const top = 1130, rowH = 880.6 / heatValues.length, colW = 158.9, left = 1892;
  const yD = i => top + i * rowH;
  const xD = j => left + j * colW;
  heatValues.forEach((row,i)=>row.forEach((v,j)=>{
    const c = mk(g,'rect',{x:xD(j),y:yD(i),width:colW+0.5,height:rowH+0.5,fill:ramp(heatStops,v),'shape-rendering':'crispEdges'});
    
    
  }));
  heatColumns.forEach((n,j)=>{
    const t = mk(g,'text',{transform:'translate('+(xD(j)+colW/2-5)+',2030) rotate(90)','font-size':27},n);
    
    
  });
  for (let k=0;k<56;k++){
    const v = 2.05 - k*(3.67/56);
    const s = mk(g,'rect',{x:2851,y:1130+k*(221/56),width:16.1,height:221/56+0.5,fill:ramp(heatStops,v),'shape-rendering':'crispEdges'});
    
    
  }
  heatBarTicks.forEach((t,i)=>{
    const l = mk(g,'text',{x:2875,y:1133+(2-t)*60.3+6,'font-size':17},heatBarLabels[i]);
    
    
  });
  const leafX = 1891;
  function seg(x1,y1,x2,y2){
    const s = mk(g,'line',{x1,y1,x2,y2,stroke:'#333','stroke-width':1.6});
    
    
  }
  function build(a,b,parentX){
    if(a===b) return {y:yD(a)+rowH/2,x:leafX};
    const key=a+'-'+b, spec=rowTreeNodes[key];
    const n=b-a+1;
    const x=spec?spec[0]:(n<=2?Math.max(1881,parentX+4):parentX+(leafX-parentX)*(n<=6?0.45:0.28));
    const s=spec?spec[1]:a+Math.min(n-2,Math.ceil(n*0.55)-1);
    const u=build(a,s,x), d=build(s+1,b,x);
    seg(x,u.y,x,d.y);
    seg(x,u.y,u.x,u.y);
    seg(x,d.y,d.x,d.y);
    return {y:(u.y+d.y)/2,x:x};
  }
  build(0,heatValues.length-1,1805);
})();
</script>

<script>
/* ---------- Panel E: GO enrichment bars ---------- */
const goCategories = ["BP","CC","MF"];
const goBpTerms = ["regulation of cell activation","regulation of hormone secretion","neuron apoptotic process","chemotaxis","positive regulation of leukocyte activation","nervous system development","sympathetic nervous system development","endocrine hormone secretion","positive regulation of response to external stimulus","cell development"];
const goBpValues = [3.98,3.64,3.64,3.61,3.60,3.55,3.45,3.32,3.21,3.08];
const goCcTerms = ["cell surface","synapse","cell body membrane","plasma membrane receptor complex","axon","plasma membrane","ion channel complex","sodium channel complex","transmembrane transporter complex","transporter complex"];
const goCcValues = [3.92,3.46,2.94,2.64,2.23,2.23,2.10,1.97,1.94,1.85];
const goMfTerms = ["G protein-coupled receptor binding","cytokine receptor binding","molecular function regulator","transmembrane receptor protein kinase activity","non-membrane spanning protein tyrosine kinase activity","ICAM-3 receptor activity","sodium channel activity","nuclear receptor activity","cytokine activity","transmembrane signaling receptor activity"];
const goMfValues = [3.86,3.60,3.60,3.52,3.52,3.16,2.87,2.82,2.43,2.28];
const goTicks = [0,0.5,1,1.5,2,2.5,3,3.5];
const goGroupTitles = ["Biological process","Cellular component","Molecular function"];
const goColors = ["#009e78","#ec641c","#626fad"];
(function(){
  const g = document.getElementById('panelE');
  const yE = v => 2774 - v * 114.2;
  const groups = [[goBpTerms,goBpValues,263.4],[goCcTerms,goCcValues,663.4],[goMfTerms,goMfValues,1064]];
  const polyLeft = [[248,103.6],[648,502.7],[1048,903.6]];
  groups.forEach((G,k)=>{
    const col = goColors[k];
    G[0].forEach((term,i)=>{
      const c = G[2] + i * 36.4;
      const b = mk(g,'rect',{x:c-14.75,y:yE(G[1][i]),width:29.5,height:G[1][i]*114.2,fill:col});
      
      
      const tk = mk(g,'line',{x1:c,x2:c,y1:2774,y2:2789,stroke:'#111','stroke-width':2.5});
      
      
      const t = mk(g,'text',{transform:'translate('+(c-2)+',2794) rotate(-71)','font-size':19.5,'font-style':'italic','text-anchor':'end',fill:col},term);
      
      
    });
    const x0 = polyLeft[k][0], xb = polyLeft[k][1];
    const p = mk(g,'path',{d:'M'+x0+' 2774L'+xb+' 3229.5H'+(xb+358)+'L'+(x0+358)+' 2774',fill:'none',stroke:col,'stroke-width':1.8});
    
    
    const tt = mk(g,'text',{x:[178,573,975][k],y:3285,'font-size':24,fill:col,textLength:[192,205,201][k],lengthAdjust:'spacingAndGlyphs'},goGroupTitles[k]);
    
    
    const sw = mk(g,'rect',{x:1293.8,y:2340+k*33.5,width:52.6,height:17,fill:col});
    
    
    const lt = mk(g,'text',{x:1366,y:2358+k*33.5,'font-size':26},goCategories[k]);
    
    
  });
  const ax = mk(g,'path',{d:'M226.8 2318V2774H1428',fill:'none',stroke:'#111','stroke-width':2.8});
  
  
  goTicks.forEach(t=>{
    const k = mk(g,'line',{x1:216,x2:227,y1:yE(t),y2:yE(t),stroke:'#111','stroke-width':2.5});
    
    
    const l = mk(g,'text',{x:209,y:yE(t)+9,'font-size':26,'text-anchor':'end'},t.toFixed(1));
    
    
  });
})();
</script>

<script>
/* ---------- Panel F: KEGG dot plot ---------- */
const keggTerms = ["Hematopoietic cell lineage","Allograft rejection","Viral protein interaction with cytokine and cytokine receptor","Legionellosis","Antigen processing and presentation","Complement and coagulation cascades","Phagosome","Cholesterol metabolism","Th1 and Th2 cell differentiation","Measles","Cytosolic DNA−sensing pathway","IL−17 signaling pathway","Cortisol synthesis and secretion","Protein digestion and absorption","Chemokine signaling pathway","Neuroactive ligand−receptor interaction","Cytokine−cytokine receptor interaction","Cell adhesion molecules","cAMP signaling pathway","P53 signaling pathway"];
const keggRatio = [.1762,.1663,.1369,.1364,.1358,.1279,.1105,.102,.0988,.0922,.0909,.0898,.0895,.0699,.0683,.0595,.0579,.0579,.0579,.0522];
const keggCount = [17,8,12,8,10,10,18,5,9,13,6,8,6,9,12,20,17,17,11,10];
const keggP = [.0005,.001,.0008,.0012,.001,.001,.0005,.011,.002,.001,.009,.006,.012,.013,.006,.002,.004,.004,.012,.041];
const keggXTicks = [0.05,0.10,0.15];
const keggPTicks = [0.01,0.02,0.03,0.04];
const keggCountTicks = [5,10,15,20];
const keggPStops = [[0,'#ff1010'],[.006,'#ff5a05'],[.012,'#f08a05'],[.02,'#d4a800'],[.03,'#90c000'],[.042,'#10bb10']];
(function(){
  const g = document.getElementById('panelF');
  const xF = v => 2367.7 + (v - 0.05) * 3448;
  const yF = i => 2349.4 + i * 45.05;
  const rad = c => 8 + 12.5 * Math.sqrt((c - 5) / 16);
  const frame = {l:2354.5,r:2823,t:2323.6,b:3230.8};
  [0.075,0.125,0.175].forEach(v=>{
    const m = mk(g,'line',{x1:xF(v),x2:xF(v),y1:frame.t,y2:frame.b,stroke:'#eeeeee','stroke-width':2});
    
    
  });
  keggXTicks.forEach(v=>{
    const m = mk(g,'line',{x1:xF(v),x2:xF(v),y1:frame.t,y2:frame.b,stroke:'#ebebeb','stroke-width':4});
    
    
    const k = mk(g,'line',{x1:xF(v),x2:xF(v),y1:frame.b,y2:frame.b+7,stroke:'#222','stroke-width':3});
    
    
    const l = mk(g,'text',{x:xF(v),y:3260,'font-size':26,'text-anchor':'middle'},v.toFixed(2));
    
    
  });
  keggTerms.forEach((t,i)=>{
    const m = mk(g,'line',{x1:frame.l,x2:frame.r,y1:yF(i),y2:yF(i),stroke:'#ebebeb','stroke-width':4});
    
    
    const k = mk(g,'line',{x1:2346,x2:frame.l,y1:yF(i),y2:yF(i),stroke:'#222','stroke-width':3.5});
    
    
    const l = mk(g,'text',{x:2339.5,y:yF(i)+8.5,'font-size':27.4,'text-anchor':'end'},t);
    
    
  });
  keggTerms.forEach((t,i)=>{
    const r = rad(keggCount[i]);
    const d = mk(g,'ellipse',{cx:xF(keggRatio[i]),cy:yF(i),rx:r,ry:r*0.88,fill:ramp(keggPStops,keggP[i])});
    
    
  });
  const fr = mk(g,'rect',{x:frame.l,y:frame.t,width:frame.r-frame.l,height:frame.b-frame.t,fill:'none',stroke:'#222','stroke-width':3});
  
  
  keggPTicks.forEach(p=>{
    const y = 2720.7 - (p - 0.01) * 5110;
    const a = mk(g,'path',{d:'M2869 '+y+'h9M2907 '+y+'h9',stroke:'#fff','stroke-width':2,fill:'none'});
    
    
    const l = mk(g,'text',{x:2930,y:y+8,'font-size':25},p.toFixed(2));
    
    
  });
  keggCountTicks.forEach((c,i)=>{
    const y = 2881 + i * 42.8;
    const r = rad(c);
    const d = mk(g,'ellipse',{cx:2893,cy:y,rx:r,ry:r*0.88,fill:'#000'});
    
    
    const l = mk(g,'text',{x:2930,y:y+8,'font-size':25},String(c));
    
    
  });
})();
</script>
</body>
</html>
